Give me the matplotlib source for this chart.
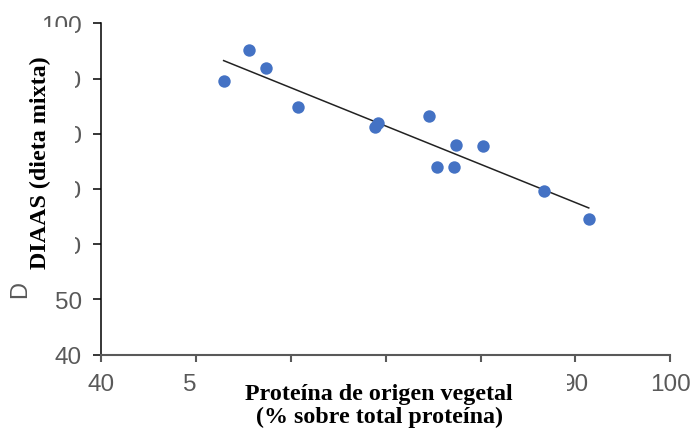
import matplotlib.pyplot as plt
import numpy as np
from matplotlib.patches import Rectangle

# values
protein_veg = [52.9, 55.6, 57.4, 60.7, 68.9, 69.2, 74.6, 77.4, 80.2, 75.4, 77.2, 86.7, 91.4]
diaas_mix = [89.6, 95.2, 91.9, 84.9, 81.3, 82.0, 83.3, 78.0, 77.7, 74.0, 73.9, 69.6, 64.6]

x_ticks = [40, 50, 60, 70, 80, 90, 100]
# 60/70/80 are hidden under the pasted x label in the reference
x_tick_labels = ["40", "50", "", "", "", "90", "100"]
y_ticks = [40, 50, 60, 70, 80, 90, 100]

W, H = 692, 439
GREY = "#595959"
BLUE = "#4472C4"


def px(x, y):
    """pixel (from top-left) -> figure fraction"""
    return x / W, 1 - y / H


fig = plt.figure(figsize=(W / 100, H / 100), dpi=100)
ax = fig.add_axes([101.3 / W, 1 - 355.7 / H, (670.3 - 101.3) / W, (355.7 - 24.3) / H])

ax.scatter(protein_veg, diaas_mix, s=80, color=BLUE, zorder=3, clip_on=False, linewidths=0)

# linear trend line over the data range
slope, icpt = np.polyfit(protein_veg, diaas_mix, 1)
xs = np.array([min(protein_veg), max(protein_veg)])
ax.plot(xs, slope * xs + icpt, color="#222222", linewidth=1.1, zorder=2, clip_on=False)

ax.set_xlim(40, 100)
ax.set_ylim(40, 100)
ax.set_xticks(x_ticks)
ax.set_xticklabels(x_tick_labels)
ax.set_yticks(y_ticks)

ax.spines[["top", "right"]].set_visible(False)
ax.spines["bottom"].set_color(GREY)
ax.spines["bottom"].set_linewidth(1.5)
ax.spines["left"].set_color("black")
ax.spines["left"].set_linewidth(1.1)

ax.tick_params(axis="x", direction="out", length=5, width=1.5, color=GREY,
               pad=8.5, labelsize=17.5, labelcolor=GREY)
ax.tick_params(axis="y", direction="out", length=6, width=1.1, color="black",
               pad=8, labelsize=17.5, labelcolor=GREY)
for lab in ax.get_xticklabels() + ax.get_yticklabels():
    lab.set_family("Liberation Sans")

# white boxes pasted over the old labels
x0, y0 = px(0, 276)
x1, y1 = px(75, 28)
fig.add_artist(Rectangle((x0, y0), x1 - x0, y1 - y0, transform=fig.transFigure,
                         facecolor="white", edgecolor="none", zorder=1))
x0, y0 = px(197, H)
x1, y1 = px(567, 368)
fig.add_artist(Rectangle((x0, y0), x1 - x0, y1 - y0, transform=fig.transFigure,
                         facecolor="white", edgecolor="none", zorder=1))

# what is left of the original grey y label
fig.text(*px(20, 290), "D", rotation=90, ha="center", va="center",
         fontsize=17, color=GREY, family="Liberation Sans")

fig.text(*px(40, 163), "DIAAS (dieta mixta)", rotation=90, ha="center", va="center",
         fontsize=17.3, fontweight="bold", family="Liberation Serif", color="black")
fig.text(*px(379, 406), "Proteína de origen vegetal\n(% sobre total proteína)",
         ha="center", va="center", fontsize=17.3, fontweight="bold",
         family="Liberation Serif", color="black", linespacing=1.08)

fig.savefig("out.png", dpi=100)
